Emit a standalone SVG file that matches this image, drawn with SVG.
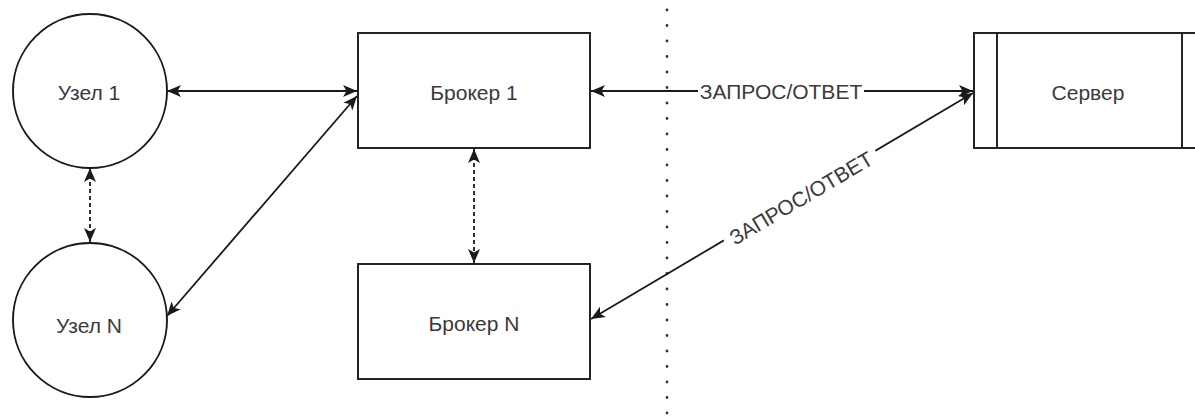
<svg xmlns="http://www.w3.org/2000/svg" width="1195" height="418" viewBox="0 0 1195 418">
<style>
.shape{fill:#fff;stroke:#1a1a1a;stroke-width:1.9}
.lbl{font-family:"Liberation Sans",Arial,sans-serif;font-size:21px;fill:#3a3a3a;text-anchor:middle;dominant-baseline:central}
.edge{fill:none;stroke:#1a1a1a;stroke-width:1.8}
.dash{stroke-dasharray:4 3}
</style>
<defs>
<marker id="arr" viewBox="0 0 14 12" refX="14" refY="6" markerWidth="14" markerHeight="12" markerUnits="userSpaceOnUse" orient="auto-start-reverse">
<path d="M0,0 L14,6 L0,12 L3.5,6 Z" fill="#1a1a1a"/>
</marker>
</defs>
<rect width="1195" height="418" fill="#fff"/>
<line x1="667" y1="10" x2="667" y2="418" stroke="#333" stroke-width="2.8" stroke-dasharray="0 15.5" stroke-linecap="round"/>
<g id="connectors">
<line class="edge" x1="167" y1="91" x2="357" y2="91" marker-start="url(#arr)" marker-end="url(#arr)"/>
<line class="edge" x1="167" y1="316" x2="357" y2="96" marker-start="url(#arr)" marker-end="url(#arr)"/>
<line class="edge dash" x1="90" y1="168" x2="90" y2="242" marker-start="url(#arr)" marker-end="url(#arr)"/>
<line class="edge dash" x1="474" y1="149" x2="474" y2="263" marker-start="url(#arr)" marker-end="url(#arr)"/>
<line class="edge" x1="591" y1="91" x2="973" y2="91" marker-start="url(#arr)" marker-end="url(#arr)"/>
<line class="edge" x1="591" y1="319" x2="973" y2="93" marker-start="url(#arr)" marker-end="url(#arr)"/>
<rect x="698" y="80" width="166" height="22" fill="#fff"/>
<text class="lbl" x="781" y="91">ЗАПРОС/ОТВЕТ</text>
<g transform="translate(801,198) rotate(-30.6)">
<rect x="-88" y="-11" width="176" height="22" fill="#fff"/>
<text class="lbl" x="0" y="0">ЗАПРОС/ОТВЕТ</text>
</g>
</g>
<g id="node1">
<circle class="shape" cx="90" cy="91" r="77"/>
<text class="lbl" x="89" y="92">Узел 1</text>
</g>
<g id="nodeN">
<circle class="shape" cx="90" cy="320" r="77"/>
<text class="lbl" x="89" y="325">Узел N</text>
</g>
<g id="broker1">
<rect class="shape" x="358" y="33" width="232" height="115"/>
<text class="lbl" x="474" y="92">Брокер 1</text>
</g>
<g id="brokerN">
<rect class="shape" x="358" y="264" width="232" height="115"/>
<text class="lbl" x="474" y="323">Брокер N</text>
</g>
<g id="server">
<rect class="shape" x="974" y="33" width="232" height="115"/>
<line class="shape" x1="997" y1="33" x2="997" y2="148"/>
<line class="shape" x1="1182" y1="33" x2="1182" y2="148"/>
<text class="lbl" x="1088" y="92">Сервер</text>
</g>
</svg>
